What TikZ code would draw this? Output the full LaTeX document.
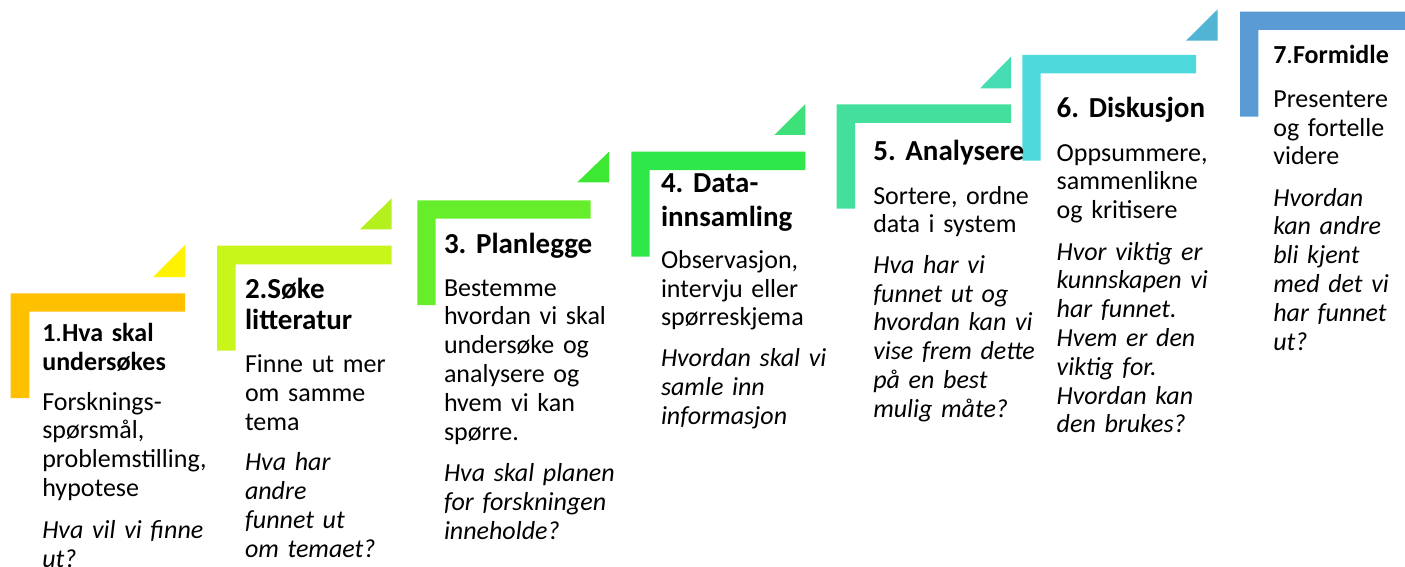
\documentclass[tikz,border=0pt]{standalone}
\usepackage{fontspec}
\setmainfont[WordSpace=0.8]{Carlito}
\frenchspacing
\definecolor{c1}{HTML}{FFC000}
\definecolor{k1}{HTML}{FFF200}
\definecolor{c2}{HTML}{C8F51A}
\definecolor{k2}{HTML}{B4F01E}
\definecolor{c3}{HTML}{66EE2A}
\definecolor{k3}{HTML}{3DE834}
\definecolor{c4}{HTML}{2EE84A}
\definecolor{k4}{HTML}{3EE07A}
\definecolor{c5}{HTML}{42E09C}
\definecolor{k5}{HTML}{46DCB4}
\definecolor{c6}{HTML}{4ED9DC}
\definecolor{k6}{HTML}{52B4D4}
\definecolor{c7}{HTML}{5B9BD5}
\tikzset{
  txtbase/.style={anchor=base west, inner sep=0pt, outer sep=0pt, text width=300pt, align=left, text=black},
  ttl/.style={txtbase, font=\fontsize{29}{32.5}\selectfont\bfseries},
  ttlsmall/.style={txtbase, font=\fontsize{26}{28.5}\selectfont\bfseries},
  bodytxt/.style={txtbase, font=\fontsize{26}{28.8}\selectfont},
  qtxt/.style={txtbase, font=\fontsize{26}{28.8}\selectfont\itshape},
}
% L-shaped bracket: left, top, right, horizontal-bottom, vertical-right, vertical-bottom
\newcommand{\stepbracket}[7]{\fill[#1] (#2,#3) -- (#4,#3) -- (#4,#5) -- (#6,#5) -- (#6,#7) -- (#2,#7) -- cycle;}
% triangle: left x, bottom y, right x, top y
\newcommand{\steptri}[5]{\fill[#1] (#2,#3) -- (#4,#3) -- (#4,#5) -- cycle;}
\begin{document}
\begin{tikzpicture}[x=1pt,y=-1pt]
\useasboundingbox (0,0) rectangle (1405,567);
\begin{scope}
\clip (0,0) rectangle (1405,567);
% brackets
\stepbracket{c1}{10.7}{293.3}{185}{311.7}{29.3}{398}
\stepbracket{c2}{217}{245.7}{391.5}{264.3}{235.5}{350.7}
\stepbracket{c3}{417.3}{200.3}{590.7}{218.5}{435.7}{305}
\stepbracket{c4}{631.3}{151.7}{805.3}{170}{649.5}{256.7}
\stepbracket{c5}{836.7}{104.5}{1011}{123}{855}{208.5}
\stepbracket{c6}{1022.3}{55}{1196}{73.3}{1040.7}{160.7}
\stepbracket{c7}{1240}{11.7}{1420}{30}{1258.3}{116.7}
% triangles
\steptri{k1}{153}{277}{185}{245}
\steptri{k2}{360}{229.3}{391.7}{198.3}
\steptri{k3}{577.3}{182.3}{609}{151.7}
\steptri{k4}{774.3}{135}{805.3}{104}
\steptri{k5}{980}{88.3}{1011}{56.7}
\steptri{k6}{1186}{40.7}{1217.7}{9.3}
% step 1
\node[ttlsmall] (t1) at (42.3,341.7) {1{\mdseries.}Hva skal\\undersøkes};
\node[bodytxt] (b1) at (42.3,410) {Forsknings-\\spørsmål,\\problemstilling,\\hypotese};
\node[qtxt] (q1) at (42.3,538.3) {Hva vil vi finne\\ut?};
% step 2
\node[ttl] (t2) at (245,298.3) {2.Søke\\[-1.5pt]litteratur};
\node[bodytxt] (b2) at (245,372.7) {Finne ut mer\\om samme\\tema};
\node[qtxt] (q2) at (245,470.7) {Hva har\\andre\\funnet ut\\om temaet?};
% step 3
\node[ttl] (t3) at (444,253.3) {3. Planlegge};
\node[bodytxt] (b3) at (444,296) {Bestemme\\hvordan vi skal\\undersøke og\\analysere og\\hvem vi kan\\spørre.};
\node[qtxt] (q3) at (444,481.7) {Hva skal planen\\for forskningen\\inneholde?};
% step 4
\node[ttl] (t4) at (661,192.7) {4. Data-\\[0.8pt]innsamling};
\node[bodytxt] (b4) at (661,268.3) {Observasjon,\\intervju eller\\spørreskjema};
\node[qtxt] (q4) at (661,366.7) {Hvordan skal vi\\samle inn\\informasjon};
% step 5
\node[ttl] (t5) at (873.3,160.7) {5. Analysere};
\node[bodytxt] (b5) at (873.3,204) {Sortere, ordne\\data i system};
\node[qtxt] (q5) at (873.3,273.3) {Hva har vi\\funnet ut og\\hvordan kan vi\\vise frem dette\\på en best\\mulig måte?};
% step 6
\node[ttl] (t6) at (1056.7,117.3) {6. Diskusjon};
\node[bodytxt] (b6) at (1056.7,161) {Oppsummere,\\sammenlikne\\og kritisere};
\node[qtxt] (q6) at (1056.7,260) {Hvor viktig er\\kunnskapen vi\\har funnet.\\Hvem er den\\viktig for.\\Hvordan kan\\den brukes?};
% step 7
\node[ttlsmall] (t7) at (1273.3,64) {7{\mdseries.}Formidle};
\node[bodytxt] (b7) at (1273.3,107.3) {Presentere\\og fortelle\\videre};
\node[qtxt] (q7) at (1273.3,206) {Hvordan\\kan andre\\bli kjent\\med det vi\\har funnet\\ut?};
\end{scope}
\end{tikzpicture}
\end{document}
